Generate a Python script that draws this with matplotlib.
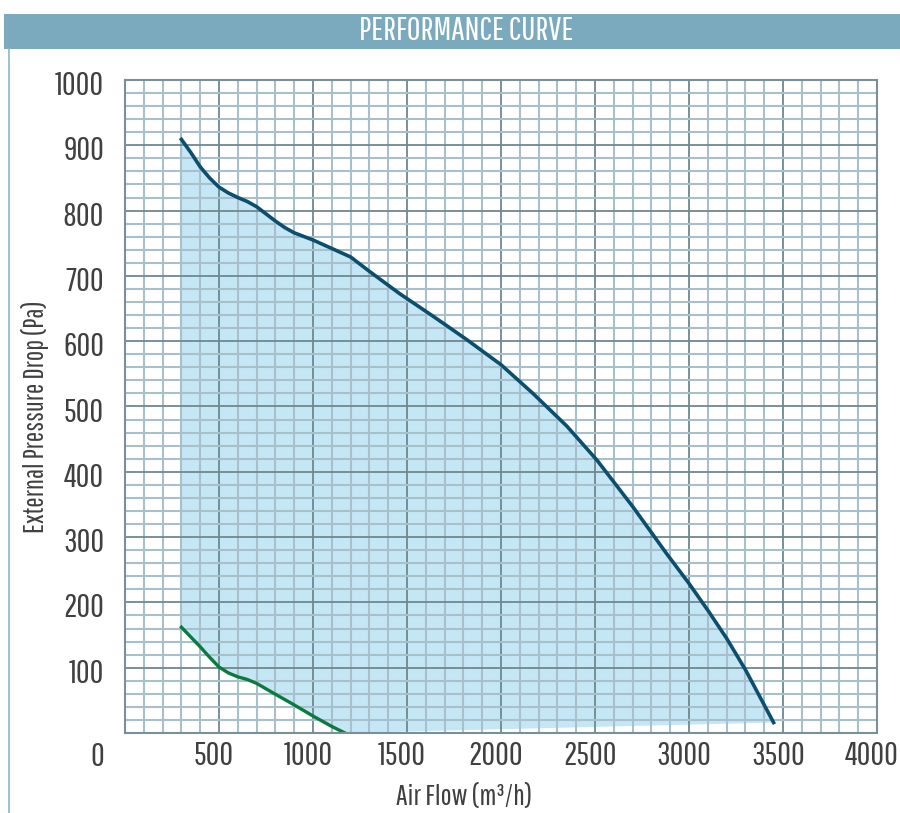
import matplotlib
matplotlib.use("Agg")
import matplotlib.pyplot as plt
from matplotlib.patches import Rectangle
from matplotlib.lines import Line2D
from matplotlib.transforms import ScaledTranslation
import numpy as np

plt.rcParams['font.family'] = ['Pathway Gothic One', 'DejaVu Sans']

# ---- data ----
title = "PERFORMANCE CURVE"
x_label = "Air Flow (m³/h)"
y_label = "External Pressure Drop (Pa)"

max_x = [300, 350, 400, 450, 500, 550, 600, 650, 700, 750, 800, 850, 900, 1000,
         1100, 1200, 1300, 1460, 1640, 1820, 2000, 2170, 2350, 2510, 2700, 2880,
         3000, 3100, 3200, 3300, 3450]
max_y = [909, 889, 867, 850, 836, 827, 820, 814, 806, 795, 784, 774, 766, 755,
         742, 729, 707, 673, 638, 602, 564, 520, 470, 418, 347, 275,
         229, 188, 145, 97, 16]

min_x = [300, 350, 400, 450, 500, 550, 600, 650, 700, 790, 900, 1000, 1100, 1170]
min_y = [162, 147, 132, 116, 101, 92, 86, 82, 76, 61, 43, 26, 10, 0]

x_ticks = [500, 1000, 1500, 2000, 2500, 3000, 3500, 4000]
y_ticks = [100, 200, 300, 400, 500, 600, 700, 800, 900, 1000]

# ---- figure ----
W, H = 900, 813
fig = plt.figure(figsize=(W / 100, H / 100), dpi=100)
fig.patch.set_facecolor('white')

fig.patches.append(Rectangle((4 / W, 1 - 49 / H), 1 - 4 / W, 35 / H,
                             transform=fig.transFigure, facecolor='#7BAABE',
                             edgecolor='none', zorder=0))
fig.text(466 / W, 1 - 31 / H, title, color='white', fontsize=24,
         ha='center', va='center')
fig.lines.append(Line2D([8.5 / W, 8.5 / W], [0, 1 - 49 / H], transform=fig.transFigure,
                        color='#8DB5C9', lw=1.2))

ax = fig.add_axes([125 / W, 1 - 733 / H, (877 - 125) / W, (733 - 80) / H])
ax.set_xlim(0, 4000)
ax.set_ylim(0, 1000)

poly_x = list(max_x) + list(min_x[::-1])
poly_y = list(max_y) + list(min_y[::-1])
ax.fill(poly_x, poly_y, color='#C5E6F4', lw=0, zorder=1)

for xv in np.arange(100, 4000, 100):
    major = xv % 500 == 0
    ax.axvline(xv, color='#6F8892' if major else '#A8C0CB',
               lw=1.3 if major else 1.5, zorder=2)
for yv in np.arange(20, 1000, 20):
    major = yv % 100 == 0
    ax.axhline(yv, color='#6F8892' if major else '#A8C0CB',
               lw=1.3 if major else 1.5, zorder=2)

ax.plot(max_x, max_y, color='#0B4E6D', lw=2.6, zorder=4, solid_joinstyle='round')
ax.plot(min_x, min_y, color='#0B7A3E', lw=2.4, zorder=4, solid_joinstyle='round')

for s in ax.spines.values():
    s.set_color('#7A8F98')
    s.set_linewidth(1.5)
    s.set_zorder(5)

ax.set_xticks(x_ticks)
ax.set_yticks(y_ticks)
ax.tick_params(length=0, labelsize=24, labelcolor='#404040')
ax.tick_params(axis='y', pad=15)
ax.tick_params(axis='x', pad=6)
for lab in ax.get_xticklabels():
    lab.set_transform(lab.get_transform() + ScaledTranslation(-5 / 100, 0, fig.dpi_scale_trans))
for lab in ax.get_yticklabels():
    lab.set_transform(lab.get_transform() + ScaledTranslation(0, -3 / 100, fig.dpi_scale_trans))

fig.text(97 / W, 1 - 757 / H, '0', fontsize=24, color='#404040', ha='center', va='center')
fig.text(464 / W, 1 - 797 / H, x_label, fontsize=21, color='#404040', ha='center', va='center')
fig.text(35 / W, 1 - 417 / H, y_label, fontsize=20, color='#404040', ha='center',
         va='center', rotation=90)

fig.savefig('out.png', dpi=100, facecolor='white')
